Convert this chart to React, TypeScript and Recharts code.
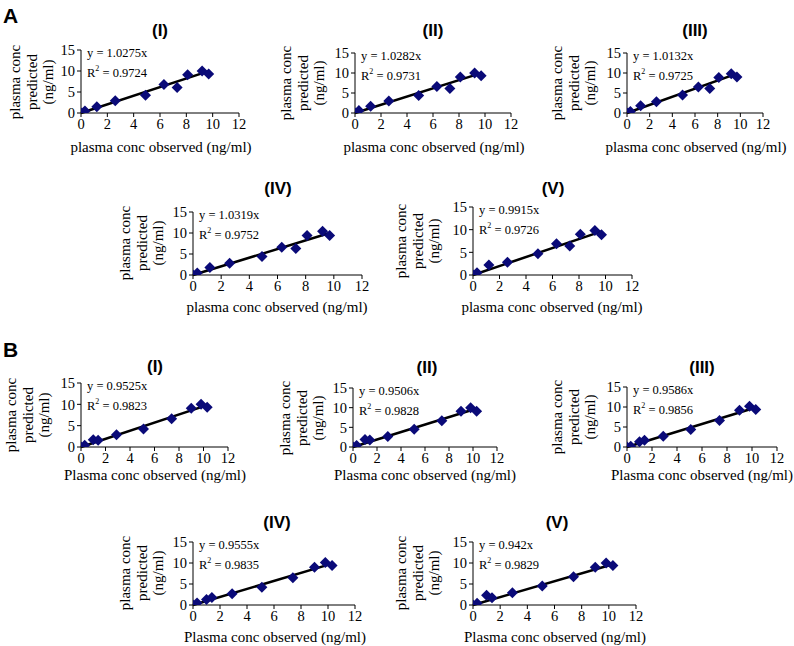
import React from 'react';
import { ScatterChart, Scatter, XAxis, YAxis, ReferenceLine } from 'recharts';

// ---- data ----
const groupLetters = ['A', 'B'];
const panelTitles = ['(I)', '(II)', '(III)', '(IV)', '(V)'];
const xLabelA = 'plasma conc observed (ng/ml)';
const xLabelB = 'Plasma conc observed (ng/ml)';
const yLabelLines = ['plasma conc', 'predicted', '(ng/ml)'];
const xTicks = [0, 2, 4, 6, 8, 10, 12];
const yTicks = [0, 5, 10, 15];

const observedA = [0, 0.3, 1.2, 2.6, 4.9, 6.3, 7.3, 8.1, 9.2, 9.7];
const predA1 = [0, 0.5, 1.5, 2.9, 4.2, 6.8, 6.1, 9.1, 10.0, 9.3];
const predA2 = [0, 0.6, 1.7, 3.0, 4.4, 6.6, 6.1, 9.0, 10.0, 9.3];
const predA3 = [0, 0.4, 1.8, 2.8, 4.5, 6.5, 6.1, 8.9, 9.8, 9.0];
const predA4 = [0, 0.5, 1.8, 2.8, 4.4, 6.6, 6.3, 9.4, 10.4, 9.4];
const predA5 = [0, 0.5, 2.2, 2.8, 4.7, 6.9, 6.4, 9.0, 9.8, 8.9];
const slopesA = [1.0275, 1.0282, 1.0132, 1.0319, 0.9915];
const eqA = ['y = 1.0275x', 'y = 1.0282x', 'y = 1.0132x', 'y = 1.0319x', 'y = 0.9915x'];
const r2A = ['0.9724', '0.9731', '0.9725', '0.9752', '0.9726'];

const observedB = [0, 0.3, 1.0, 1.4, 2.9, 5.1, 7.4, 9.0, 9.8, 10.3];
const predB1 = [0, 0.4, 1.7, 1.6, 2.9, 4.2, 6.6, 9.1, 10.0, 9.3];
const predB2 = [0, 0.4, 1.9, 1.8, 2.7, 4.5, 6.7, 9.1, 10.0, 9.1];
const predB3 = [0, 0.2, 1.3, 1.7, 2.7, 4.4, 6.6, 9.2, 10.2, 9.4];
const predB4 = [0, 0.5, 1.3, 1.8, 2.7, 4.2, 6.5, 9.0, 10.1, 9.4];
const predB5 = [0, 0.4, 2.3, 1.7, 2.9, 4.5, 6.7, 9.0, 10.0, 9.4];
const slopesB = [0.9525, 0.9506, 0.9586, 0.9555, 0.942];
const eqB = ['y = 0.9525x', 'y = 0.9506x', 'y = 0.9586x', 'y = 0.9555x', 'y = 0.942x'];
const r2B = ['0.9823', '0.9828', '0.9856', '0.9835', '0.9829'];

// ---- layout (pixel geometry of each plot area) ----
type Geom = { ax: number; x12: number; y15: number; y0: number; tx: number; ty: number; ylx: number; yly: number; xlx: number; xly: number };
const geomA: Geom[] = [
  { ax: 81, x12: 239, y15: 50, y0: 113, tx: 160, ty: 30, ylx: 15, yly: 82, xlx: 161, xly: 147 },
  { ax: 355, x12: 511, y15: 53, y0: 113, tx: 433, ty: 30, ylx: 286, yly: 83, xlx: 434, xly: 147 },
  { ax: 627, x12: 763, y15: 53, y0: 113, tx: 695, ty: 30, ylx: 557, yly: 83, xlx: 696, xly: 147 },
  { ax: 193, x12: 362, y15: 212, y0: 275, tx: 278, ty: 188, ylx: 125, yly: 243, xlx: 277, xly: 307 },
  { ax: 473, x12: 632, y15: 207, y0: 275, tx: 553, ty: 188, ylx: 401, yly: 241, xlx: 552, xly: 307 },
];
const geomB: Geom[] = [
  { ax: 81, x12: 228, y15: 383, y0: 447, tx: 155, ty: 366, ylx: 11, yly: 415, xlx: 155, xly: 475 },
  { ax: 353, x12: 497, y15: 388, y0: 447, tx: 427, ty: 367, ylx: 285, yly: 418, xlx: 425, xly: 475 },
  { ax: 627, x12: 777, y15: 387, y0: 447, tx: 702, ty: 367, ylx: 557, yly: 417, xlx: 702, xly: 475 },
  { ax: 193, x12: 355, y15: 542, y0: 605, tx: 277, ty: 522, ylx: 125, yly: 573, xlx: 275, xly: 637 },
  { ax: 473, x12: 636, y15: 542, y0: 605, tx: 557, ty: 522, ylx: 401, yly: 573, xlx: 555, xly: 637 },
];

const SERIF = '"Liberation Serif", "Times New Roman", serif';
const SANS = '"Liberation Sans", Arial, sans-serif';
const MARK = '#0a0a78';

const Diamond = (p: any) => {
  const { cx, cy } = p;
  if (cx == null || cy == null) return null;
  const h = 5.5;
  return <polygon points={`${cx},${cy - h} ${cx + h},${cy} ${cx},${cy + h} ${cx - h},${cy}`} fill={MARK} />;
};

const XTick = (p: any) => (
  <text x={p.x} y={p.y} dy="0.75em" textAnchor="middle" fontFamily={SERIF} fontSize={14.5} fill="#000">
    {p.payload.value}
  </text>
);
const YTick = (p: any) => (
  <text x={p.x} y={p.y} dy="0.36em" textAnchor="end" fontFamily={SERIF} fontSize={14.5} fill="#000">
    {p.payload.value}
  </text>
);

const LEFT = 50;
const TOP = 10;
const BOTTOM = 30;
const RIGHT = 10;

function Panel({ g, obs, pred, slope }: { g: Geom; obs: number[]; pred: number[]; slope: number }) {
  const plotW = g.x12 - g.ax;
  const plotH = g.y0 - g.y15;
  const data = obs.map((x, i) => ({ x, y: pred[i] }));
  const xmax = Math.max(...obs);
  return (
    <div style={{ position: 'absolute', left: g.ax - LEFT, top: g.y15 - TOP }}>
      <ScatterChart
        width={plotW + LEFT + RIGHT}
        height={plotH + TOP + BOTTOM}
        margin={{ top: TOP, right: RIGHT, bottom: 0, left: 0 }}
      >
        <XAxis
          type="number"
          dataKey="x"
          domain={[0, 12]}
          ticks={xTicks}
          height={BOTTOM}
          tickSize={4}
          tickMargin={1}
          interval={0}
          stroke="#000"
          tick={XTick}
          allowDataOverflow
        />
        <YAxis
          type="number"
          dataKey="y"
          domain={[0, 15]}
          ticks={yTicks}
          width={LEFT}
          tickSize={4}
          tickMargin={2}
          interval={0}
          stroke="#000"
          tick={YTick}
          allowDataOverflow
        />
        <Scatter data={data} shape={Diamond} isAnimationActive={false} />
        <ReferenceLine
          segment={[{ x: 0, y: 0 }, { x: xmax, y: slope * xmax }]}
          stroke="#000"
          strokeWidth={2.5}
          ifOverflow="visible"
        />
      </ScatterChart>
    </div>
  );
}

function Texts({ g, title, xLabel, eq, r2 }: { g: Geom; title: string; xLabel: string; eq: string; r2: string }) {
  return (
    <g>
      <text x={g.tx} y={g.ty} textAnchor="middle" dominantBaseline="central" fontFamily={SANS} fontWeight="bold" fontSize={17}>
        {title}
      </text>
      {yLabelLines.map((t, i) => (
        <text
          key={i}
          x={0}
          y={0}
          transform={`translate(${g.ylx + i * 16.5},${g.yly}) rotate(-90)`}
          textAnchor="middle"
          dominantBaseline="central"
          fontFamily={SERIF}
          fontSize={15}
        >
          {t}
        </text>
      ))}
      <text x={g.xlx} y={g.xly} textAnchor="middle" dominantBaseline="central" fontFamily={SERIF} fontSize={15}>
        {xLabel}
      </text>
      <text x={g.ax + 6} y={g.y15 + 3} dominantBaseline="central" fontFamily={SERIF} fontSize={12.5}>
        {eq}
      </text>
      <text x={g.ax + 6} y={g.y15 + 23} dominantBaseline="central" fontFamily={SERIF} fontSize={12.5}>
        R<tspan fontSize={8} dy={-5}>2</tspan>
        <tspan dy={5}> = {r2}</tspan>
      </text>
    </g>
  );
}

export default function App() {
  const predsA = [predA1, predA2, predA3, predA4, predA5];
  const predsB = [predB1, predB2, predB3, predB4, predB5];
  return (
    <div style={{ position: 'absolute', left: 0, top: 0, width: 794, height: 646, background: '#fff', overflow: 'hidden' }}>
      {geomA.map((g, i) => (
        <Panel key={'a' + i} g={g} obs={observedA} pred={predsA[i]} slope={slopesA[i]} />
      ))}
      {geomB.map((g, i) => (
        <Panel key={'b' + i} g={g} obs={observedB} pred={predsB[i]} slope={slopesB[i]} />
      ))}
      <svg width={794} height={646} style={{ position: 'absolute', left: 0, top: 0, pointerEvents: 'none' }}>
        <text x={3} y={15} dominantBaseline="central" fontFamily={SANS} fontWeight="bold" fontSize={21}>
          {groupLetters[0]}
        </text>
        <text x={3} y={349} dominantBaseline="central" fontFamily={SANS} fontWeight="bold" fontSize={21}>
          {groupLetters[1]}
        </text>
        {geomA.map((g, i) => (
          <Texts key={'ta' + i} g={g} title={panelTitles[i]} xLabel={xLabelA} eq={eqA[i]} r2={r2A[i]} />
        ))}
        {geomB.map((g, i) => (
          <Texts key={'tb' + i} g={g} title={panelTitles[i]} xLabel={xLabelB} eq={eqB[i]} r2={r2B[i]} />
        ))}
      </svg>
    </div>
  );
}
